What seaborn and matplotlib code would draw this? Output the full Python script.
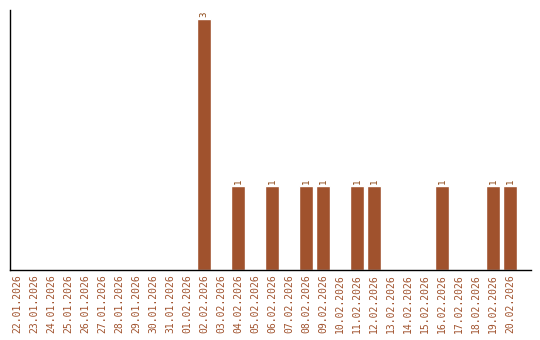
import matplotlib
matplotlib.use("Agg")
import matplotlib.pyplot as plt
import seaborn as sns
import pandas as pd

dates = ["22.01.2026", "23.01.2026", "24.01.2026", "25.01.2026", "26.01.2026",
         "27.01.2026", "28.01.2026", "29.01.2026", "30.01.2026", "31.01.2026",
         "01.02.2026", "02.02.2026", "03.02.2026", "04.02.2026", "05.02.2026",
         "06.02.2026", "07.02.2026", "08.02.2026", "09.02.2026", "10.02.2026",
         "11.02.2026", "12.02.2026", "13.02.2026", "14.02.2026", "15.02.2026",
         "16.02.2026", "17.02.2026", "18.02.2026", "19.02.2026", "20.02.2026"]
counts = [0, 0, 0, 0, 0, 0, 0, 0, 0, 0,
          0, 3, 0, 1, 0, 1, 0, 1, 1, 0,
          1, 1, 0, 0, 0, 1, 0, 0, 1, 1]

df = pd.DataFrame({"date": dates, "count": counts})

sns.set_style("white")
color = "#A0522D"

fig = plt.figure(figsize=(5.4, 3.4), dpi=100)
ax = fig.add_axes([10/540, 70/340, 521/540, 260/340])
sns.barplot(data=df, x="date", y="count", color=color, saturation=1,
            width=0.82, ax=ax, order=dates)

ax.set_ylim(0, 3.11)
ax.set_xlim(-0.41, 30.24)
ax.set_xlabel("")
ax.set_ylabel("")
ax.set_yticks([])
ax.tick_params(axis="x", length=0, pad=3)
for lab in ax.get_xticklabels():
    lab.set_rotation(90)
    lab.set_fontfamily("DejaVu Sans Mono")
    lab.set_fontsize(7)
    lab.set_color(color)

for i, v in enumerate(counts):
    if v > 0:
        ax.text(i, v + 0.03, str(v), rotation=90, ha="center", va="bottom",
                fontsize=6.5, color="#8B4513", family="DejaVu Sans Mono")

for s in ["top", "right"]:
    ax.spines[s].set_visible(False)
for s in ["left", "bottom"]:
    ax.spines[s].set_color("black")
    ax.spines[s].set_linewidth(1)

fig.savefig("out.png", dpi=100)
